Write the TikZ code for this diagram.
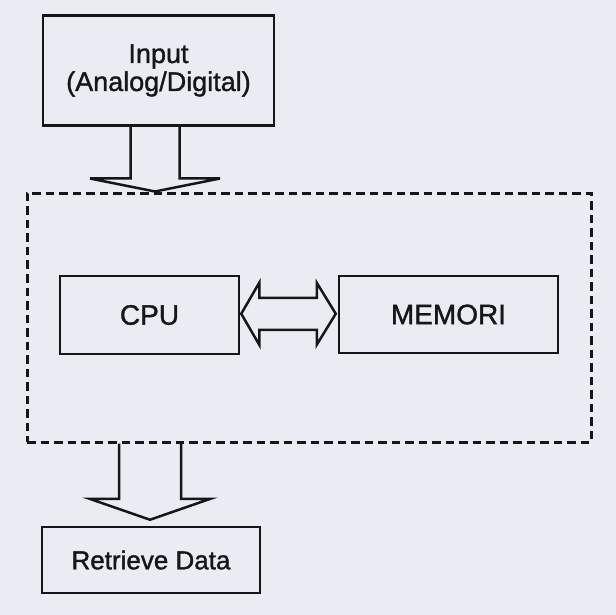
\documentclass[tikz,border=0pt]{standalone}
\usepackage{fontspec}
\setmainfont{Liberation Sans}
\newfontfamily\labelfont{Liberation Sans}[FakeBold=1.3]
\usetikzlibrary{calc}
\definecolor{paper}{RGB}{234,236,243}
\definecolor{ink}{RGB}{22,22,24}
\tikzset{
  box/.style={draw=ink, line width=2.5pt, align=center, text=ink, inner sep=0pt},
  groupbox/.style={draw=ink, line width=3pt, dash pattern=on 8.5pt off 5pt},
  blockarrow/.style={draw=ink, line width=2.5pt, line join=miter},
}
\begin{document}
\begin{tikzpicture}[x=1pt, y=-1pt]
  % page background
  \fill[paper] (0,0) rectangle (616,615);
  \useasboundingbox (0,0) rectangle (616,615);

  % boxes
  \node[box, minimum width=231pt, minimum height=110pt,
        font=\labelfont\fontsize{27}{28}\selectfont] (input) at (158.5,70.5)
        {Input\\(Analog/Digital)};
  \node[groupbox, minimum width=564pt, minimum height=249pt] (system) at (309,317.5) {};
  \node[box, minimum width=179pt, minimum height=78pt,
        font=\labelfont\fontsize{28}{30}\selectfont] (cpu) at (149.5,315) {CPU};
  \node[box, minimum width=219pt, minimum height=77pt,
        font=\labelfont\fontsize{28}{30}\selectfont] (memori) at (448.5,314.5) {MEMORI};
  \node[box, minimum width=218pt, minimum height=66pt,
        font=\labelfont\fontsize{26}{28}\selectfont] (retrieve) at (151,560) {Retrieve Data};

  % tips of the two block arrows
  \coordinate (t1) at ($(input.south |- system.north)+(-3.5,0)$);
  \coordinate (t2) at ($(retrieve.north)+(-1,-6)$);

  % input -> system
  \draw[blockarrow] let \p1=(t1), \p2=(input.south) in
    (\x1-24.5pt,\y2) -- (\x1-24.5pt,\y1+13pt) -- (\x1-65pt,\y1+13pt) -- (t1)
    -- (\x1+65pt,\y1+13pt) -- (\x1+24.5pt,\y1+13pt) -- (\x1+24.5pt,\y2);

  % system -> retrieve data
  \draw[blockarrow] let \p1=(t2), \p2=(system.south) in
    (\x1-31pt,\y2) -- (\x1-31pt,\y1+21pt) -- (\x1-60.5pt,\y1+21pt) -- (t2)
    -- (\x1+60.5pt,\y1+21pt) -- (\x1+31pt,\y1+21pt) -- (\x1+31pt,\y2);

  % CPU <-> MEMORI
  \draw[blockarrow] let \p1=(cpu.east), \p2=(memori.west),
      \n1={(\y1+\y2)/2+1pt} in
    (\x1+1pt,\n1) -- (\x1+19pt,\n1+31pt) -- (\x1+19pt,\n1+16pt)
    -- (\x2-21pt,\n1+16pt) -- (\x2-21pt,\n1+31pt) -- (\x2-2pt,\n1)
    -- (\x2-21pt,\n1-31pt) -- (\x2-21pt,\n1-16pt) -- (\x1+19pt,\n1-16pt)
    -- (\x1+19pt,\n1-31pt) -- cycle;
\end{tikzpicture}
\end{document}
